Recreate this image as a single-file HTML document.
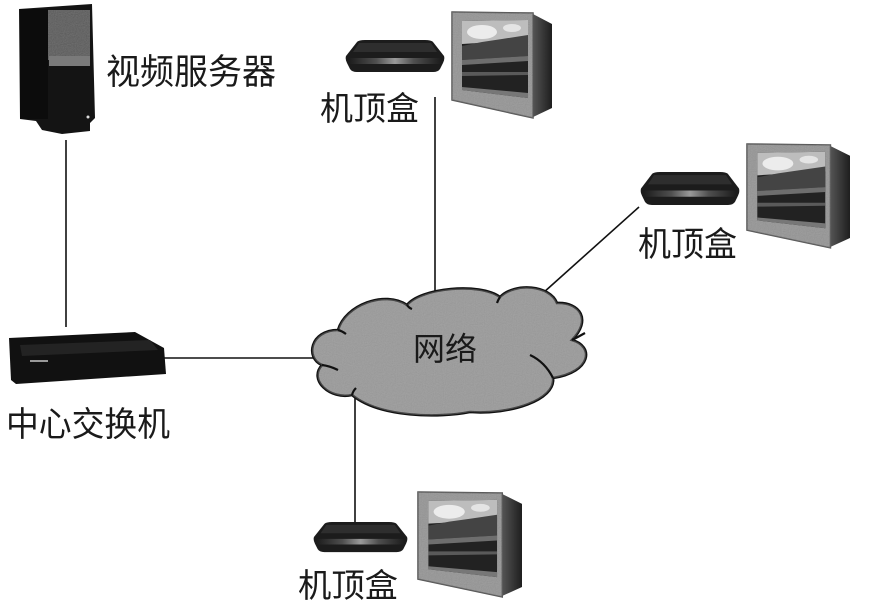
<!DOCTYPE html>
<html>
<head>
<meta charset="utf-8">
<style>
html,body{margin:0;padding:0;background:#fff;}
svg{display:block;}
text{font-family:"Liberation Sans","Noto Sans CJK SC","WenQuanYi Zen Hei",sans-serif;fill:#1a1a1a;}
</style>
</head>
<body>
<svg width="872" height="612" viewBox="0 0 872 612" xmlns="http://www.w3.org/2000/svg">
<defs>
  <filter id="grain" x="0" y="0" width="100%" height="100%">
    <feTurbulence type="fractalNoise" baseFrequency="0.9" numOctaves="1" seed="3" result="n"/>
    <feColorMatrix type="saturate" values="0" in="n" result="g"/>
    <feComponentTransfer in="g" result="g2"><feFuncA type="linear" slope="0" intercept="0.25"/></feComponentTransfer>
    <feComposite in="g2" in2="SourceGraphic" operator="in" result="c"/>
    <feMerge><feMergeNode in="SourceGraphic"/><feMergeNode in="c"/></feMerge>
  </filter>
  <linearGradient id="stbBand" x1="0" y1="0" x2="1" y2="0">
    <stop offset="0" stop-color="#1a1a1a"/>
    <stop offset="0.3" stop-color="#555"/>
    <stop offset="0.5" stop-color="#a8a8a8"/>
    <stop offset="0.7" stop-color="#555"/>
    <stop offset="1" stop-color="#1a1a1a"/>
  </linearGradient>
  <linearGradient id="tvSide" x1="0" y1="0" x2="1" y2="0">
    <stop offset="0" stop-color="#5a5a5a"/>
    <stop offset="1" stop-color="#1e1e1e"/>
  </linearGradient>
  <g id="stb">
    <path d="M12 2 Q14 0 20 0 L80 0 Q86 0 88 2 L99 16 Q100 19 98 23 L95 29 Q93 32 88 32 L12 32 Q7 32 5 29 L2 23 Q0 19 1 16 Z" fill="#1c1c1c"/>
    <path d="M3 18 L97 18 L96 24 L4 24 Z" fill="url(#stbBand)" opacity="0.9"/>
    <path d="M14 3 L86 3 L92 12 L8 12 Z" fill="#2e2e2e"/>
  </g>
  <g id="tv">
    <polygon points="79,3 100,14 100,98 79,108" fill="url(#tvSide)"/>
    <polygon points="0,2 81,3 81,108 0,90" fill="#a2a2a2" stroke="#555" stroke-width="1.5"/>
    <polygon points="0,2 81,3 81,108 0,90" fill="#777" filter="url(#grain)" opacity="0.4"/>
    <polygon points="10,11 76,10 76,88 10,80" fill="#222"/>
    <polygon points="10,11 76,10 76,30 10,34" fill="#bdbdbd"/>
    <ellipse cx="30" cy="22" rx="15" ry="7" fill="#ececec"/>
    <ellipse cx="60" cy="18" rx="9" ry="4" fill="#e4e4e4"/>
    <polygon points="10,36 30,32 50,29 76,25 76,46 10,50" fill="#444"/>
    <polygon points="10,50 76,46 76,51 10,55" fill="#6e6e6e"/>
    <polygon points="10,62 76,62 76,65 10,66" fill="#5a5a5a"/>
    <polygon points="10,77 76,83 76,88 10,80" fill="#777"/>
  </g>
</defs>

<!-- connectors -->
<g stroke="#111" stroke-width="1.6" fill="none">
  <line x1="66" y1="140" x2="66" y2="327"/>
  <line x1="163" y1="358" x2="318" y2="358"/>
  <line x1="435" y1="97" x2="435" y2="296"/>
  <line x1="543" y1="293" x2="639" y2="207"/>
  <line x1="355" y1="393" x2="355" y2="523"/>
</g>

<!-- video server -->
<g>
  <path d="M19 9 L92 4 L95 118 L90 123 L90 131 L62 134 L42 130 L36 121 L20 119 Z" fill="#141414"/>
  <rect x="48" y="10" width="42" height="50" fill="#3e3e3e"/>
  <rect x="48" y="10" width="42" height="50" fill="#666" filter="url(#grain)" opacity="0.6"/>
  <rect x="49" y="56" width="41" height="10" fill="#7a7a7a"/>
  <rect x="20" y="9" width="28" height="110" fill="#0c0c0c"/>
  <circle cx="88" cy="117" r="1.5" fill="#ddd"/>
</g>
<text x="106" y="84" font-size="35" textLength="170" lengthAdjust="spacingAndGlyphs">视频服务器</text>

<!-- switch -->
<g>
  <path d="M9 338 L135 332 L164 348 L166 374 L16 384 L11 380 Z" fill="#111"/>
  <path d="M20 345 L150 340 L158 350 L22 356 Z" fill="#232323"/>
  <rect x="30" y="360" width="18" height="2" fill="#999"/>
</g>
<text x="6" y="436" font-size="34" textLength="164" lengthAdjust="spacingAndGlyphs">中心交换机</text>

<!-- cloud -->
<g>
  <path d="M338 330 C345 305,385 290,407 305 C420 288,480 282,500 297 C515 282,550 285,557 303 C580 302,592 320,572 340 C594 346,592 372,553 378 C556 400,510 415,470 412 C440 418,380 418,352 395 C330 400,308 380,322 365 C305 358,310 330,338 330 Z" fill="#a2a2a2" stroke="#111" stroke-width="2.6"/>
  <path d="M338 330 C345 305,385 290,407 305 C420 288,480 282,500 297 C515 282,550 285,557 303 C580 302,592 320,572 340 C594 346,592 372,553 378 C556 400,510 415,470 412 C440 418,380 418,352 395 C330 400,308 380,322 365 C305 358,310 330,338 330 Z" fill="#888" filter="url(#grain)" opacity="0.4"/>
  <g stroke="#111" stroke-width="2.2" fill="none">
    <path d="M322 365 Q330 366 338 370"/>
    <path d="M338 330 Q342 331 346 334"/>
    <path d="M572 340 Q578 337 585 333"/>
    <path d="M530 355 Q545 362 553 378"/>
    <path d="M352 395 Q353 391 356 388"/>
    <path d="M407 305 Q409 308 412 309"/>
    <path d="M500 297 Q498 300 497 303"/>
  </g>
</g>
<text x="413" y="360" font-size="32" textLength="64" lengthAdjust="spacingAndGlyphs">网络</text>

<!-- top STB + TV -->
<use href="#stb" transform="translate(345,40)"/>
<text x="320" y="120" font-size="33" textLength="99" lengthAdjust="spacingAndGlyphs">机顶盒</text>
<use href="#tv" transform="translate(452,10)"/>

<!-- right STB + TV -->
<use href="#stb" transform="translate(640,172) scale(1,1.03)"/>
<text x="638" y="256" font-size="34" textLength="99" lengthAdjust="spacingAndGlyphs">机顶盒</text>
<use href="#tv" transform="translate(747,142) scale(1.03,0.98)"/>

<!-- bottom STB + TV -->
<use href="#stb" transform="translate(313,522) scale(0.95,0.94)"/>
<text x="298" y="597" font-size="33" textLength="100" lengthAdjust="spacingAndGlyphs">机顶盒</text>
<use href="#tv" transform="translate(418,490) scale(1.04,0.99)"/>
</svg>
</body>
</html>
